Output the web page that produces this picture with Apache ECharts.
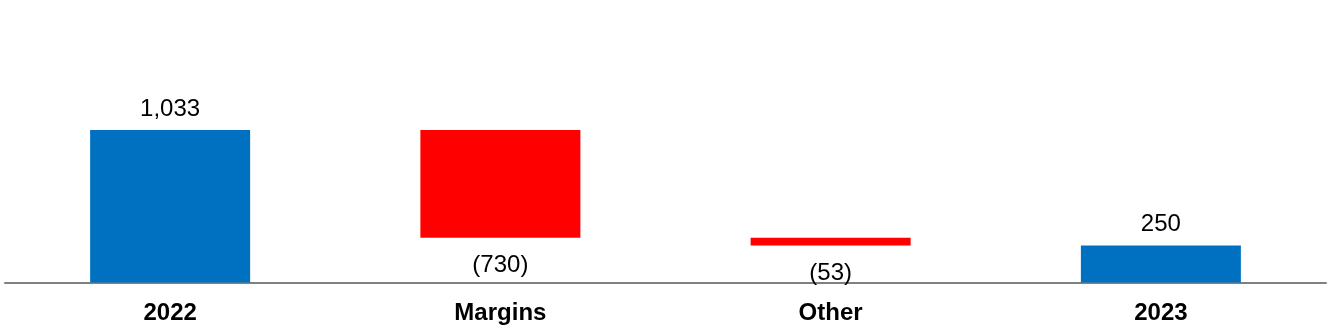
<!DOCTYPE html>
<html>
<head>
<meta charset="utf-8">
<script src="https://cdn.jsdelivr.net/npm/echarts@6/dist/echarts.min.js"></script>
<style>
html,body{margin:0;padding:0;background:#fff;}
#chart{width:1330px;height:330px;}
</style>
</head>
<body>
<div id="chart"></div>
<script>
const categories = ['2022', 'Margins', 'Other', '2023'];
const changes = [1033, -730, -53, 250];
const isTotal = [true, false, false, true];

// build waterfall base and visible heights
const base = [];
const visible = [];
let running = 0;
for (let i = 0; i < changes.length; i++) {
  if (isTotal[i]) {
    base.push(0);
    visible.push(changes[i]);
    running = changes[i];
  } else {
    const next = running + changes[i];
    base.push(Math.min(running, next));
    visible.push(Math.abs(changes[i]));
    running = next;
  }
}

function fmt(i) {
  const v = changes[i];
  const s = Math.abs(v).toLocaleString('en-US');
  return v < 0 ? '(' + s + ')' : s;
}

const chart = echarts.init(document.getElementById('chart'));
chart.setOption({
  animation: false,
  textStyle: { fontFamily: 'Liberation Sans, Arial, sans-serif' },
  grid: { left: 5, right: 4, top: 2, bottom: 47.5, containLabel: false },
  xAxis: {
    type: 'category',
    data: categories,
    axisLine: { show: true, lineStyle: { color: '#808080', width: 2 } },
    axisTick: { show: false },
    axisLabel: {
      color: '#000', fontWeight: 'bold', fontSize: 24, margin: 19,
      fontFamily: 'Liberation Sans, Arial, sans-serif'
    }
  },
  yAxis: {
    type: 'value', min: 0, max: 1900,
    show: false, splitLine: { show: false }
  },
  series: [
    {
      type: 'bar', stack: 'w', data: base, barWidth: 160,
      itemStyle: { color: 'transparent' }, silent: true
    },
    {
      type: 'bar', stack: 'w', barWidth: 160,
      data: visible.map((v, i) => ({
        value: v,
        itemStyle: { color: isTotal[i] ? '#0070C0' : '#FF0000' },
        label: {
          show: true,
          position: isTotal[i] ? 'top' : 'bottom',
          distance: isTotal[i] ? 9 : 16,
          formatter: () => fmt(i),
          color: '#000', fontSize: 24,
          fontFamily: 'Liberation Sans, Arial, sans-serif'
        }
      }))
    }
  ]
});
</script>
</body>
</html>
